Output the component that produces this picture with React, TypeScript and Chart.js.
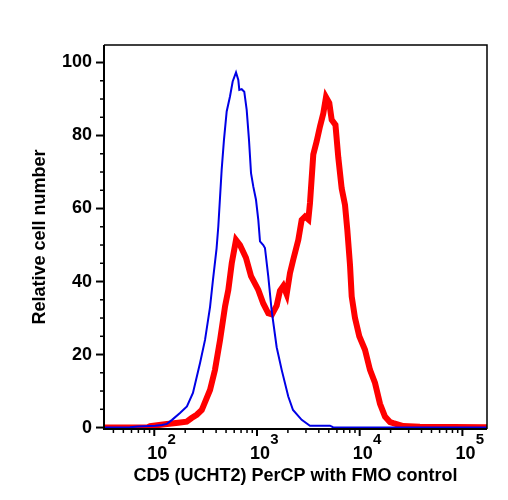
import { useEffect, useRef } from "react";
import { Chart, registerables } from "chart.js";

Chart.register(...registerables);

const FONT = "'Liberation Sans', Arial, Helvetica, sans-serif";
const BLUE = "#0000e6";
const RED = "#ff0000";

// Axis ranges
const xMin = 32.4;
const xMax = 173600;
const yMin = -0.4;
const yMax = 104.8;

// Tick layout
const yMajorStep = 20;
const yMinorStep = 5;
const xDecades = [2, 3, 4, 5];

const xTitle = "CD5 (UCHT2) PerCP with FMO control";
const yTitle = "Relative cell number";

// FMO control histogram (blue)
const fmoIntensity = [
  32.4, 58, 69, 102, 119, 133, 149, 178, 208, 238, 279, 312, 349, 373, 404, 420,
  453, 477, 507, 546, 580, 625, 658, 673, 710, 752, 794, 836, 875, 921, 978,
  1030, 1070, 1151, 1196, 1288, 1390, 1555, 1740, 2017, 2243, 2724, 3280, 5140,
  5495, 173600,
];
const fmoCount = [
  0, 0.1, 0.3, 0.5, 0.7, 1, 2.1, 4, 5.8, 9.5, 17.7, 24, 33, 40.5, 49, 55,
  70.6, 78.8, 86.6, 90.7, 94.8, 97.3, 95.2, 92.5, 92.7, 92, 87, 78.8, 69.7, 66, 62.4,
  56.9, 51, 50, 49.2, 41.4, 32, 22, 15.8, 8.5, 4.8, 2.1, 0.5, 0.5,
  0.1, 0,
];

// CD5 stained histogram (red)
const cd5Intensity = [
  32.4, 87, 91, 127, 171, 207, 231, 259, 290, 300, 349, 390, 437, 489, 526, 568,
  625, 683, 781, 875, 1030, 1151, 1288, 1400, 1555, 1675, 1804, 1945, 2096, 2255,
  2525, 2724, 2934, 3163, 3282, 3534, 3812, 4107, 4425, 4700, 5059, 5338, 5810,
  6190, 6680, 7195, 7575, 8050, 8360, 9000, 9910, 11260, 12600, 14100, 15770,
  17640, 19730, 21250, 26600, 38650, 173600,
];
const cd5Count = [
  0, 0.1, 0.4, 0.9, 1.3, 1.6, 2.6, 3.5, 4.8, 5.8, 10.3, 15.8, 24, 33.2, 37.7, 45,
  51.4, 50, 46.5, 41.5, 37.7, 34, 31.3, 31, 33.4, 37.5, 38.8, 36.5, 42.3, 46,
  51.4, 56.9, 57.8, 57, 61.5, 74.8, 78.4, 82.5, 86.1, 90.5, 88.9, 84.3, 82.9,
  74, 65.5, 61, 54.2, 44.5, 35.9, 30, 25, 21.3, 15.8, 12.2, 6.5,
  3, 1.5, 1.2, 0.4, 0.2, 0.1,
];

const toPoints = (xs: number[], ys: number[]) => xs.map((x, i) => ({ x, y: ys[i] }));

// Frame, tick marks and power-of-ten labels
const axisDecor = {
  id: "axisDecor",
  afterDraw(chart: any) {
    const { ctx, chartArea: a, scales } = chart;
    const xs = scales.x;
    const ys = scales.y;
    ctx.save();
    ctx.strokeStyle = "#000";
    ctx.fillStyle = "#000";
    ctx.lineCap = "butt";

    ctx.lineWidth = 1.5;
    ctx.beginPath();
    ctx.moveTo(a.left, a.top);
    ctx.lineTo(a.right, a.top);
    ctx.lineTo(a.right, a.bottom);
    ctx.stroke();

    ctx.lineWidth = 2;
    ctx.beginPath();
    ctx.moveTo(a.left, a.top);
    ctx.lineTo(a.left, a.bottom);
    ctx.lineTo(a.right, a.bottom);
    ctx.stroke();

    // y tick marks
    for (let v = 0; v <= yMax; v += yMinorStep) {
      const py = ys.getPixelForValue(v);
      const major = v % yMajorStep === 0;
      ctx.lineWidth = major ? 2 : 1.5;
      ctx.beginPath();
      ctx.moveTo(a.left - (major ? 8 : 4), py);
      ctx.lineTo(a.left, py);
      ctx.stroke();
    }

    // x tick marks (log decades with minor 2..9)
    for (let e = 1; e <= 5; e++) {
      for (let k = 1; k <= 9; k++) {
        const v = k * Math.pow(10, e);
        if (v < xMin || v > xMax) continue;
        const px = xs.getPixelForValue(v);
        const major = k === 1;
        ctx.lineWidth = major ? 2 : 1.5;
        ctx.beginPath();
        ctx.moveTo(px, a.bottom);
        ctx.lineTo(px, a.bottom + (major ? 7 : 4));
        ctx.stroke();
      }
    }

    // x labels: 10 with superscript exponent
    ctx.textAlign = "left";
    ctx.textBaseline = "alphabetic";
    xDecades.forEach((e) => {
      const px = xs.getPixelForValue(Math.pow(10, e));
      ctx.font = `bold 18px ${FONT}`;
      const base = "10";
      const w = ctx.measureText(base).width;
      ctx.fillText(base, px - 7, a.bottom + 29.5);
      ctx.font = `bold 15px ${FONT}`;
      ctx.fillText(String(e), px - 7 + w + 0.3, a.bottom + 14.5);
    });

    ctx.restore();
  },
};

export default function App() {
  const canvasRef = useRef<HTMLCanvasElement | null>(null);

  useEffect(() => {
    const canvas = canvasRef.current;
    if (!canvas) return;
    const chart = new Chart(canvas, {
      type: "line",
      data: {
        datasets: [
          {
            label: "FMO control",
            data: toPoints(fmoIntensity, fmoCount),
            borderColor: BLUE,
            backgroundColor: BLUE,
            borderWidth: 2,
            pointRadius: 0,
            tension: 0,
            order: 0,
          },
          {
            label: "CD5 (UCHT2) PerCP",
            data: toPoints(cd5Intensity, cd5Count),
            borderColor: RED,
            backgroundColor: RED,
            borderWidth: 6,
            pointRadius: 0,
            tension: 0,
            order: 1,
          },
        ],
      },
      options: {
        responsive: false,
        animation: false,
        events: [],
        layout: { padding: { left: 0, top: 45, right: 21, bottom: 0 } },
        plugins: {
          legend: { display: false },
          tooltip: { enabled: false },
        },
        scales: {
          x: {
            type: "logarithmic",
            min: xMin,
            max: xMax,
            grid: { display: false, drawTicks: false },
            border: { display: false },
            ticks: { display: false },
            title: {
              display: true,
              text: xTitle,
              color: "#000",
              font: { family: FONT, size: 18, weight: "bold" },
              padding: { top: 0, bottom: 13 },
            },
            afterFit: (s: any) => {
              s.height = 71;
            },
          },
          y: {
            type: "linear",
            min: yMin,
            max: yMax,
            grid: { display: false, drawTicks: false },
            border: { display: false },
            ticks: {
              stepSize: yMajorStep,
              includeBounds: false,
              padding: 12,
              color: "#000",
              font: { family: FONT, size: 18, weight: "bold" },
            },
            title: {
              display: true,
              text: yTitle,
              color: "#000",
              font: { family: FONT, size: 18, weight: "bold" },
              padding: { top: 29, bottom: 0 },
            },
            afterFit: (s: any) => {
              s.width = 104;
            },
          },
        },
      } as any,
      plugins: [axisDecor],
    });
    return () => chart.destroy();
  }, []);

  return (
    <div style={{ position: "fixed", left: 0, top: 0, width: 508, height: 500, background: "#fff" }}>
      <canvas ref={canvasRef} width={508} height={500} style={{ display: "block" }} />
    </div>
  );
}
